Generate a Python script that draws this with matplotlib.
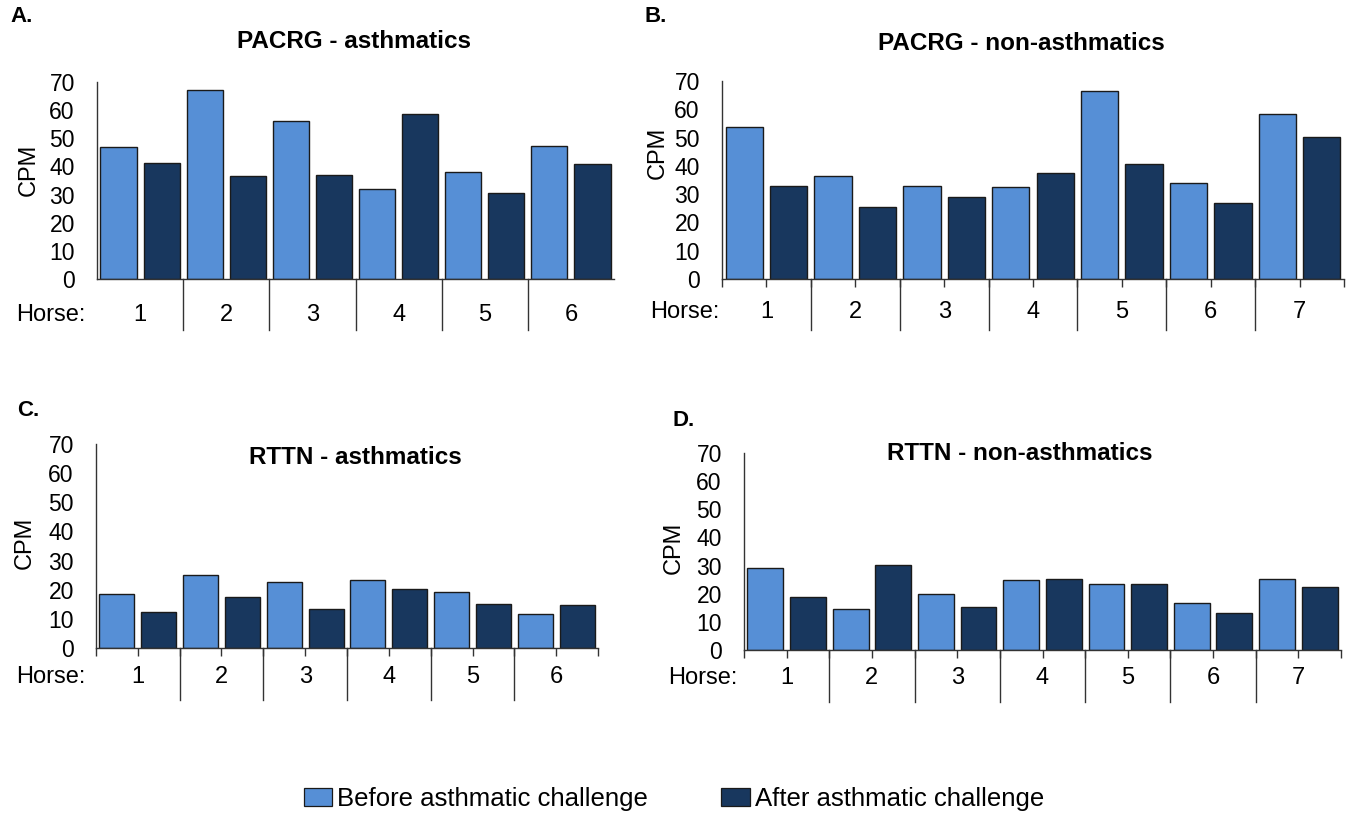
import matplotlib
matplotlib.use("Agg")
import matplotlib.pyplot as plt
from matplotlib.patches import Patch
from matplotlib.transforms import offset_copy
import numpy as np

plt.rcParams['font.family'] = ['Liberation Sans', 'DejaVu Sans']

W, H = 1347, 815
DPI = 100

c_before = '#568fd6'
c_after = '#18375e'

# PACRG - asthmatics (horses 1-6)
pacrg_asth_before = [47, 67, 56, 32, 38, 47.3]
pacrg_asth_after = [41.3, 36.5, 37, 58.5, 30.7, 40.7]

# PACRG - non-asthmatics (horses 1-7)
pacrg_non_before = [53.9, 36.5, 32.9, 32.5, 66.5, 34.1, 58.3]
pacrg_non_after = [32.9, 25.4, 28.9, 37.6, 40.6, 27, 50.2]

# RTTN - asthmatics (horses 1-6)
rttn_asth_before = [18.7, 25.2, 22.6, 23.2, 19.2, 11.7]
rttn_asth_after = [12.3, 17.5, 13.4, 20.2, 15.2, 14.9]

# RTTN - non-asthmatics (horses 1-7)
rttn_non_before = [29.3, 14.7, 20, 25, 23.4, 16.8, 25.3]
rttn_non_after = [18.9, 30.1, 15.4, 25.4, 23.4, 13.2, 22.5]

y_ticks = [0, 10, 20, 30, 40, 50, 60, 70]


def fx(px):
    return px / W


def fy(py):
    return 1 - py / H


def panel(fig, box, before, after, title, letter, pos, small_ticks=True):
    # box = (left, top, right, bottom) in pixels
    l, t, r, b = box
    ax = fig.add_axes([fx(l), fy(b), (r - l) / W, (b - t) / H])
    n = len(before)
    xs = np.arange(2 * n)
    vals = []
    cols = []
    for bv, av in zip(before, after):
        vals += [bv, av]
        cols += [c_before, c_after]
    ax.bar(xs, vals, width=0.84, color=cols, edgecolor='#1a1a1a', linewidth=1.0, zorder=2)

    ax.set_xlim(-0.5, 2 * n - 0.5)
    ax.set_ylim(0, 70)
    ax.set_yticks(y_ticks)
    ax.tick_params(axis='y', length=0, pad=16, labelsize=16.5)
    for s in ['top', 'right']:
        ax.spines[s].set_visible(False)
    for s in ['left', 'bottom']:
        ax.spines[s].set_color('#333333')
        ax.spines[s].set_linewidth(1.0)

    if small_ticks:
        ax.set_xticks(np.arange(2 * n + 1) - 0.5)
        ax.tick_params(axis='x', length=6, width=1.0, color='#333333', labelbottom=False)
    else:
        ax.set_xticks([])

    # horse group labels and separators
    tr_lab = offset_copy(ax.get_xaxis_transform(), fig=fig, y=-pos['lab_dy'], units='dots')
    for i in range(n):
        ax.text(2 * i + 0.5, 0, str(i + 1), transform=tr_lab, ha='center', va='center', fontsize=17)
    for i in range(1, n):
        x0 = 2 * i - 0.5
        ax.plot([x0, x0], [0, -pos['sep'] / (b - t)], transform=ax.get_xaxis_transform(),
                color='#333333', linewidth=1.0, clip_on=False)

    fig.text(fx(pos['horse'][0]), fy(pos['horse'][1]), 'Horse:', ha='right', va='center', fontsize=17)
    fig.text(fx(pos['cpm'][0]), fy(pos['cpm'][1]), 'CPM', rotation=90, ha='center', va='center', fontsize=17)
    fig.text(fx(pos['title'][0]), fy(pos['title'][1]), title, ha='center', va='center',
             fontsize=17.5, fontweight='bold')
    fig.text(fx(pos['letter'][0]), fy(pos['letter'][1]), letter, ha='left', va='center',
             fontsize=16, fontweight='bold')
    return ax


fig = plt.figure(figsize=(W / DPI, H / DPI), dpi=DPI)

panel(fig, (97, 82, 614, 279), pacrg_asth_before, pacrg_asth_after, 'PACRG - asthmatics', 'A.',
      dict(lab_dy=36, sep=51, horse=(86, 315), cpm=(29, 170), title=(354, 41), letter=(10, 17)),
      small_ticks=False)
panel(fig, (722, 81, 1344, 279), pacrg_non_before, pacrg_non_after, 'PACRG - non-asthmatics', 'B.',
      dict(lab_dy=33, sep=51, horse=(719, 312), cpm=(658, 153), title=(1021, 43), letter=(644, 17)))
panel(fig, (96, 444, 598, 648), rttn_asth_before, rttn_asth_after, 'RTTN - asthmatics', 'C.',
      dict(lab_dy=29, sep=52, horse=(86, 677), cpm=(25, 543), title=(355, 458), letter=(17, 410)))
panel(fig, (744, 453, 1341, 650), rttn_non_before, rttn_non_after, 'RTTN - non-asthmatics', 'D.',
      dict(lab_dy=28, sep=52, horse=(737, 678), cpm=(674, 548), title=(1020, 453), letter=(672, 421)))

handles = [Patch(facecolor=c_before, edgecolor='#1a1a1a', linewidth=0.9, label='Before asthmatic challenge'),
           Patch(facecolor=c_after, edgecolor='#1a1a1a', linewidth=0.9, label='After asthmatic challenge')]
fig.legend(handles=handles, loc='center', bbox_to_anchor=(fx(674), fy(799)), ncol=2, frameon=False,
           fontsize=18.5, handlelength=1.1, handleheight=0.66, handletextpad=0.2, columnspacing=2.85,
           borderpad=0, borderaxespad=0)

fig.savefig('out.png', dpi=DPI)
